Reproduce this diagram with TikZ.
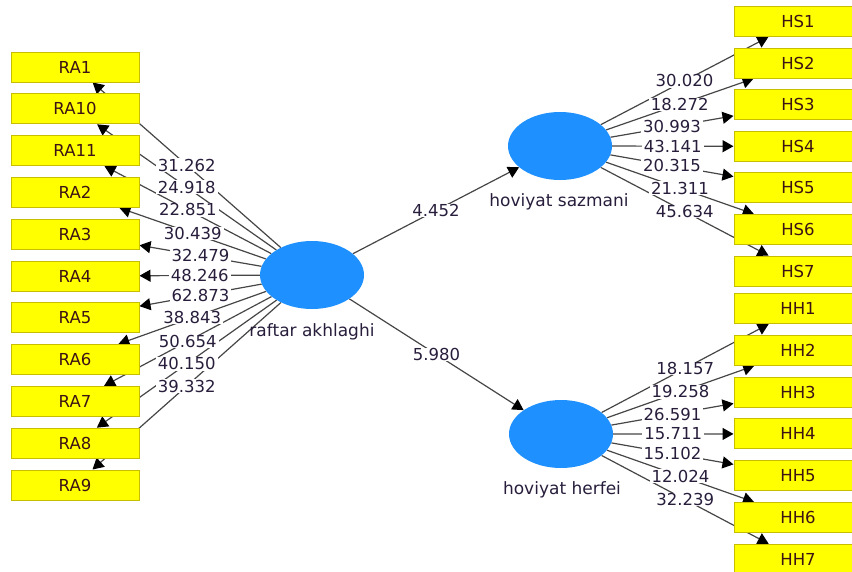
\documentclass[tikz,border=0pt]{standalone}
\usepackage{fontspec}
\setmainfont{DejaVu Sans}
\usetikzlibrary{shapes.geometric,arrows.meta}
\pgfdeclarelayer{background}
\pgfsetlayers{background,main}
\definecolor{boxfill}{RGB}{255,255,0}
\definecolor{boxline}{RGB}{200,190,0}
\definecolor{lvblue}{RGB}{30,144,255}
\definecolor{txtdark}{RGB}{60,20,20}
\definecolor{lbldark}{RGB}{40,30,60}
\definecolor{conngray}{RGB}{70,70,70}
\tikzset{
	indbox/.style={draw=boxline,fill=boxfill,line width=1pt,minimum width=128pt,minimum height=30pt,inner sep=0pt,text=txtdark,font=\fontsize{16.5}{18}\selectfont},
	lv/.style={ellipse,fill=lvblue,minimum width=104pt,minimum height=68pt,inner sep=0pt},
	lvtext/.style={text=lbldark,font=\fontsize{17}{19}\selectfont,inner sep=0pt},
	wlbl/.style={fill=white,inner xsep=2pt,inner ysep=0.5pt,text=lbldark,font=\fontsize{16.5}{18}\selectfont},
	conn/.style={draw=conngray,line width=1.2pt,-{Triangle[length=11pt,width=12pt,color=black]}}
}
\begin{document}
		\begin{tikzpicture}[x=1pt,y=-1pt]
			\useasboundingbox (0,0) rectangle (852,571);
			\clip (0,0) rectangle (852,571);
			% latent variables
			\node[lv] (ra) at (312,275) {};
			\node[lv] (hs) at (560,146) {};
			\node[lv] (hh) at (561,434) {};
			\node[lvtext] (ratext) at (312,332) {raftar akhlaghi};
			\node[lvtext] (hstext) at (559,202) {hoviyat sazmani};
			\node[lvtext] (hhtext) at (562,490) {hoviyat herfei};
			% indicators
			\node[indbox] (ra1) at (75,67) {RA1};
			\node[indbox] (ra10) at (75,108.8) {RA10};
			\node[indbox] (ra11) at (75,150.6) {RA11};
			\node[indbox] (ra2) at (75,192.4) {RA2};
			\node[indbox] (ra3) at (75,234.2) {RA3};
			\node[indbox] (ra4) at (75,276) {RA4};
			\node[indbox] (ra5) at (75,317.8) {RA5};
			\node[indbox] (ra6) at (75,359.6) {RA6};
			\node[indbox] (ra7) at (75,401.4) {RA7};
			\node[indbox] (ra8) at (75,443.2) {RA8};
			\node[indbox] (ra9) at (75,485) {RA9};
			\node[indbox] (hs1) at (798,21.5) {HS1};
			\node[indbox] (hs2) at (798,63.1) {HS2};
			\node[indbox] (hs3) at (798,104.7) {HS3};
			\node[indbox] (hs4) at (798,146.3) {HS4};
			\node[indbox] (hs5) at (798,187.9) {HS5};
			\node[indbox] (hs6) at (798,229.5) {HS6};
			\node[indbox] (hs7) at (798,271.1) {HS7};
			\node[indbox] (hh1) at (798,308.5) {HH1};
			\node[indbox] (hh2) at (798,350.3) {HH2};
			\node[indbox] (hh3) at (798,392.1) {HH3};
			\node[indbox] (hh4) at (798,433.9) {HH4};
			\node[indbox] (hh5) at (798,475.7) {HH5};
			\node[indbox] (hh6) at (798,517.5) {HH6};
			\node[indbox] (hh7) at (798,559.3) {HH7};
			% connectors behind the boxes
			\begin{pgfonlayer}{background}
			\draw[conn] (ra) to (hs);
			\draw[conn] (ra) to (hh);
			\draw[conn] (ra) to (ra1);
			\draw[conn] (ra) to (ra10);
			\draw[conn] (ra) to (ra11);
			\draw[conn] (ra) to (ra2);
			\draw[conn] (ra) to (ra3);
			\draw[conn] (ra) to (ra4);
			\draw[conn] (ra) to (ra5);
			\draw[conn] (ra) to (ra6);
			\draw[conn] (ra) to (ra7);
			\draw[conn] (ra) to (ra8);
			\draw[conn] (ra) to (ra9);
			\draw[conn] (hs) to (hs1);
			\draw[conn] (hs) to (hs2);
			\draw[conn] (hs) to (hs3);
			\draw[conn] (hs) to (hs4);
			\draw[conn] (hs) to (hs5);
			\draw[conn] (hs) to (hs6);
			\draw[conn] (hs) to (hs7);
			\draw[conn] (hh) to (hh1);
			\draw[conn] (hh) to (hh2);
			\draw[conn] (hh) to (hh3);
			\draw[conn] (hh) to (hh4);
			\draw[conn] (hh) to (hh5);
			\draw[conn] (hh) to (hh6);
			\draw[conn] (hh) to (hh7);
			\end{pgfonlayer}
			% weights
			\path (ra) to node[wlbl] (w1) {4.452} (hs);
			\path (ra) to node[wlbl] (w2) {5.980} (hh);
			\path (ra) to node[wlbl] (wra1) {31.262} (ra1);
			\path (ra) to node[wlbl] (wra10) {24.918} (ra10);
			\path (ra) to node[wlbl] (wra11) {22.851} (ra11);
			\path (ra) to node[wlbl] (wra2) {30.439} (ra2);
			\path (ra) to node[wlbl] (wra3) {32.479} (ra3);
			\path (ra) to node[wlbl] (wra4) {48.246} (ra4);
			\path (ra) to node[wlbl] (wra5) {62.873} (ra5);
			\path (ra) to node[wlbl] (wra6) {38.843} (ra6);
			\path (ra) to node[wlbl] (wra7) {50.654} (ra7);
			\path (ra) to node[wlbl] (wra8) {40.150} (ra8);
			\path (ra) to node[wlbl] (wra9) {39.332} (ra9);
			\path (hs) to node[wlbl] (whs1) {30.020} (hs1);
			\path (hs) to node[wlbl] (whs2) {18.272} (hs2);
			\path (hs) to node[wlbl] (whs3) {30.993} (hs3);
			\path (hs) to node[wlbl] (whs4) {43.141} (hs4);
			\path (hs) to node[wlbl] (whs5) {20.315} (hs5);
			\path (hs) to node[wlbl] (whs6) {21.311} (hs6);
			\path (hs) to node[wlbl] (whs7) {45.634} (hs7);
			\path (hh) to node[wlbl] (whh1) {18.157} (hh1);
			\path (hh) to node[wlbl] (whh2) {19.258} (hh2);
			\path (hh) to node[wlbl] (whh3) {26.591} (hh3);
			\path (hh) to node[wlbl] (whh4) {15.711} (hh4);
			\path (hh) to node[wlbl] (whh5) {15.102} (hh5);
			\path (hh) to node[wlbl] (whh6) {12.024} (hh6);
			\path (hh) to node[wlbl] (whh7) {32.239} (hh7);
		\end{tikzpicture}
\end{document}
